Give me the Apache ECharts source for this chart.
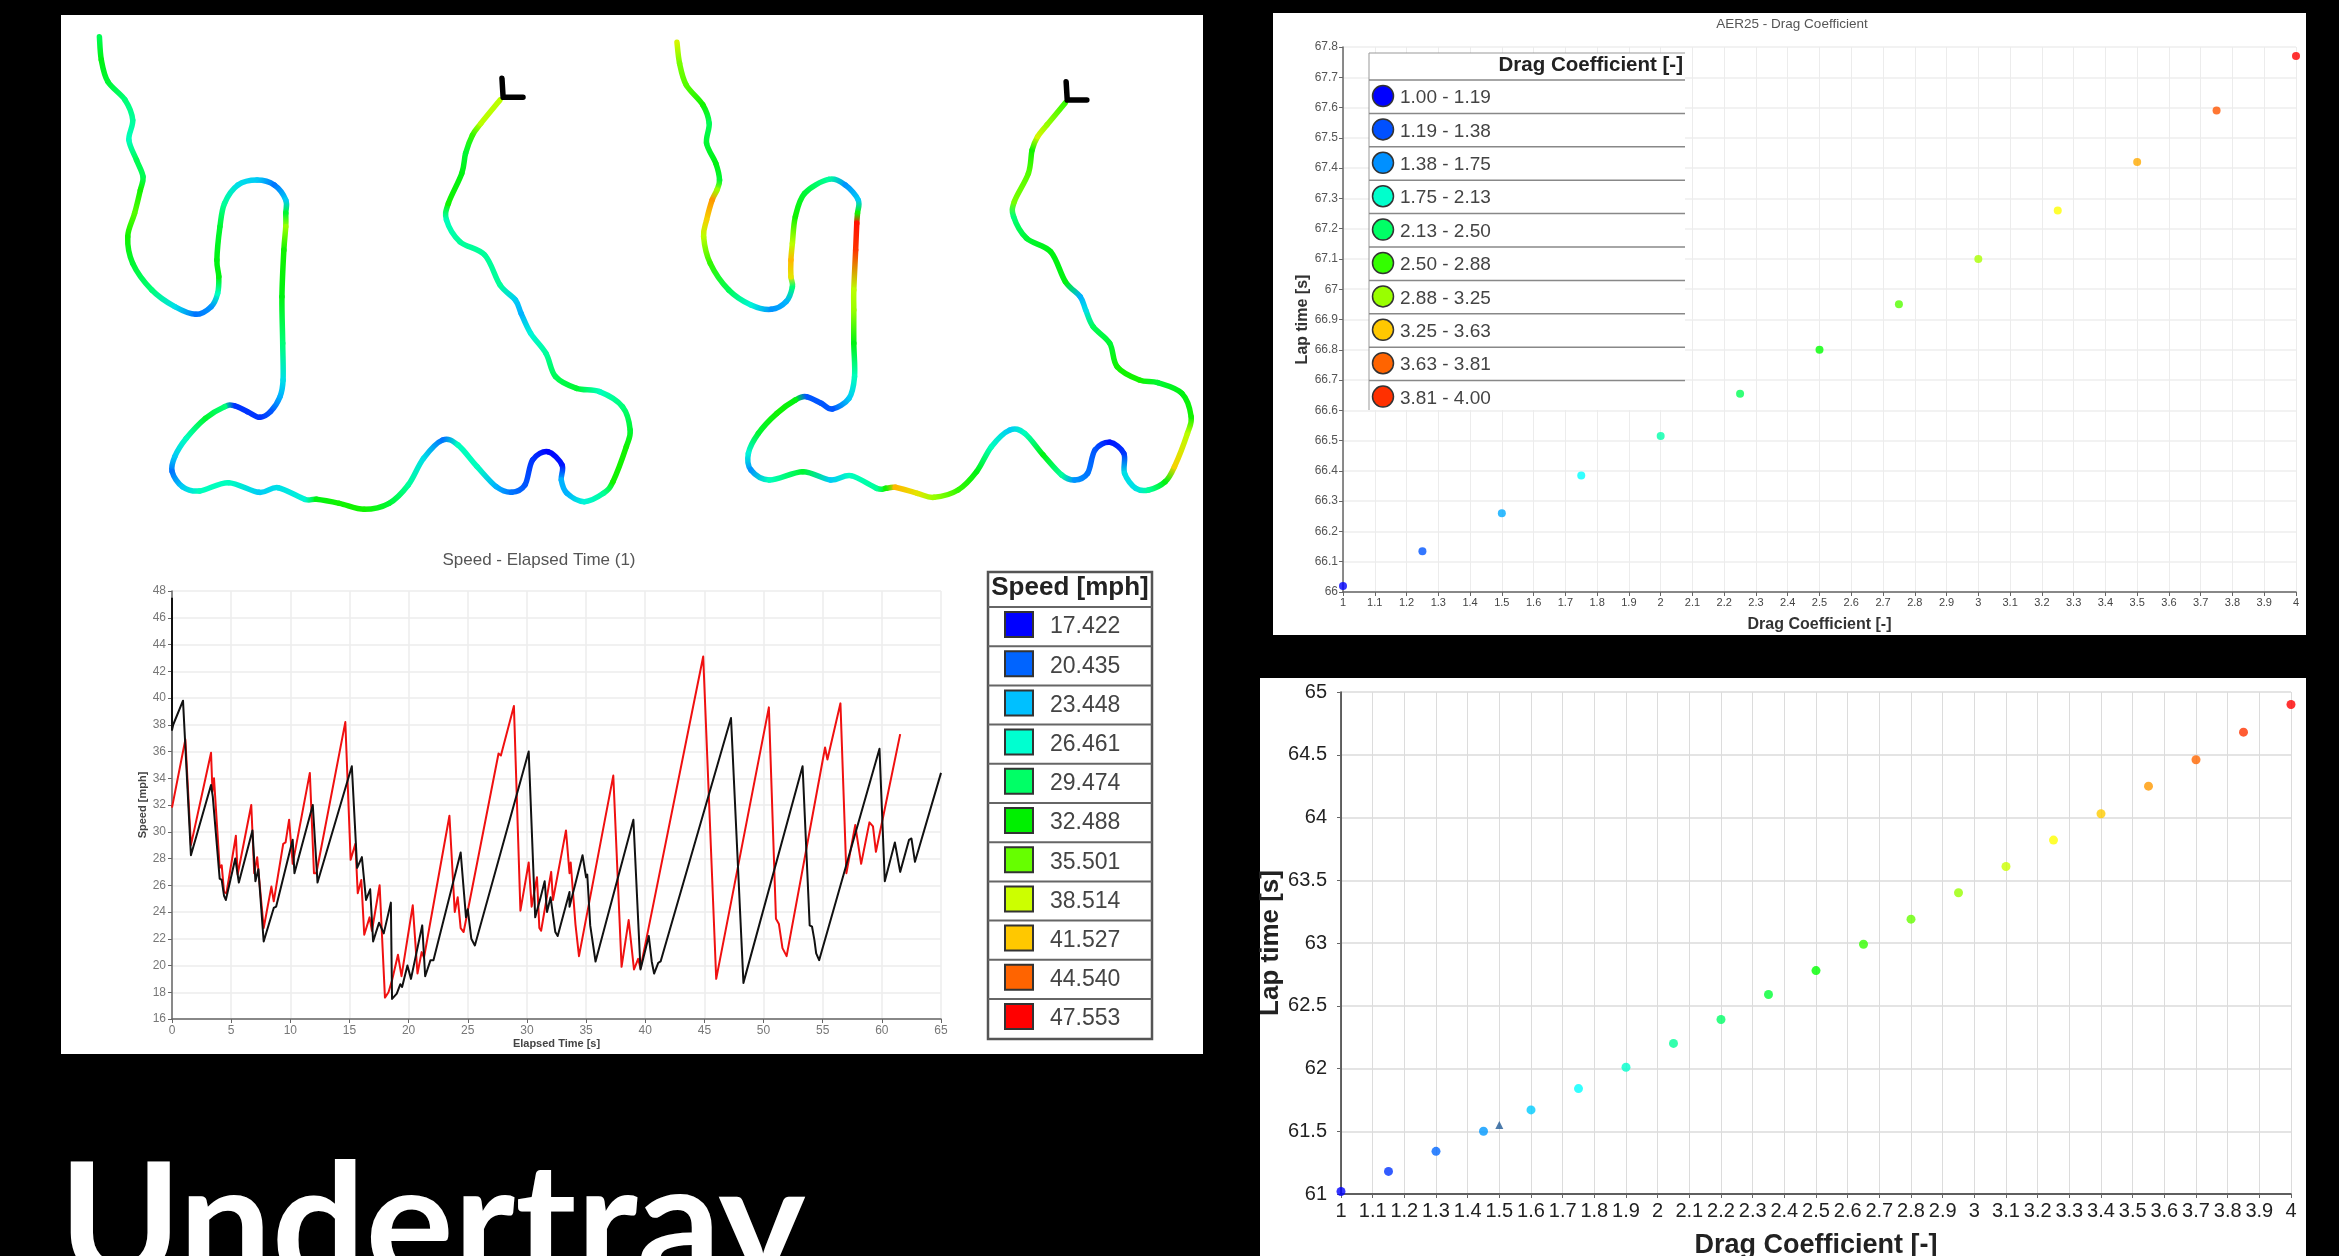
<!DOCTYPE html>
<html><head><meta charset="utf-8">
<style>html,body{margin:0;padding:0;background:#000}#c{width:2339px;height:1256px}</style>
<script src="https://cdn.jsdelivr.net/npm/echarts@6/dist/echarts.min.js"></script>
</head><body><div id="c"></div>
<script>
// ---------- data ----------
const speedLegendValues = [17.422,20.435,23.448,26.461,29.474,32.488,35.501,38.514,41.527,44.540,47.553];
const speedLegendColors = ['#0000ff','#0064ff','#00c0ff','#00ffd0','#00ff66','#00f000','#66ff00','#ccff00','#ffc800','#ff6400','#ff0000'];
const dragLegendLabels = ['1.00 - 1.19','1.19 - 1.38','1.38 - 1.75','1.75 - 2.13','2.13 - 2.50','2.50 - 2.88','2.88 - 3.25','3.25 - 3.63','3.63 - 3.81','3.81 - 4.00'];
const dragLegendColors = ['#0000ff','#0050ff','#0090ff','#00ffcc','#00ff66','#33ff00','#99ff00','#ffc800','#ff6400','#ff3000'];

// track points: [east, south, speed mph], in the map's own units
const trackA = [[103,80,30],[108,150,32],[125,215,31],[170,270,29],[190,330,28],[180,390,27],[200,450,30],[217,500,30],[210,540,33],[195,610,35],[177,680,33],[190,760,31],[240,840,29],[300,890,25],[355,913,21],[395,890,22],[412,850,27],[415,800,32],[410,750,32],[418,650,31],[430,580,28],[465,525,25],[515,510,24],[560,525,21],[590,570,24],[590,610,31],[590,650,37],[585,720,33],[580,860,32],[582,1000,29],[583,1110,25],[575,1160,23],[550,1205,20],[522,1222,19],[490,1205,19],[455,1187,19],[430,1190,29],[380,1225,31],[330,1285,27],[300,1340,24],[293,1385,21],[320,1430,24],[365,1443,27],[440,1418,27],[520,1447,24],[570,1433,25],[640,1468,26],[670,1468,32],[730,1480,33],[795,1498,33],[860,1480,31],[910,1425,28],[950,1345,25],[1000,1290,21],[1040,1305,27],[1090,1370,27],[1140,1430,23],[1180,1447,21],[1215,1425,20],[1235,1350,19],[1275,1325,17.5],[1312,1365,18],[1310,1410,23],[1325,1450,23],[1370,1475,26],[1420,1450,28],[1445,1415,33],[1480,1310,33],[1490,1260,31],[1470,1190,29],[1410,1145,27],[1350,1135,31],[1295,1100,30],[1270,1030,28],[1230,970,26],[1205,910,23],[1190,870,24],[1150,825,28],[1110,735,28],[1045,695,28],[1010,630,27],[1015,580,33],[1050,490,32],[1060,430,31],[1078,375,34],[1100,340,38],[1150,270,38]];
const markerA = [[1155,205],[1158,262],[1210,262]];
const trackB = [[100,97,39],[107,160,36],[125,225,35],[170,285,33],[187,340,30],[180,400,31],[205,460,32],[215,510,31],[208,540,37],[195,570,43],[180,630,41],[172,680,38],[190,760,34],[240,840,30],[300,885,26],[355,898,22],[395,875,23],[412,830,29],[408,800,40],[408,750,42],[412,700,38],[420,620,33],[445,550,31],[510,508,28],[555,525,22],[590,570,24],[588,610,33],[586,640,47],[583,720,46],[578,840,38],[578,900,37],[578,1000,32],[580,1100,27],[565,1165,24],[520,1197,20],[490,1180,20],[450,1160,20],[420,1170,32],[370,1210,33],[320,1270,31],[293,1330,26],[300,1380,22],[350,1410,27],[440,1385,31],[515,1410,24],[570,1397,27],[640,1435,28],[665,1435,33],[690,1432,42],[750,1450,40],[795,1462,37],[860,1440,34],[910,1385,32],[950,1310,27],[1000,1260,24],[1040,1270,27],[1090,1335,32],[1140,1395,28],[1175,1410,22],[1210,1390,21],[1230,1320,20],[1270,1297,18],[1308,1330,19],[1310,1390,25],[1340,1435,25],[1375,1440,28],[1420,1415,32],[1445,1370,41],[1480,1270,38],[1490,1220,33],[1465,1150,32],[1400,1118,31],[1350,1110,33],[1290,1070,33],[1270,1000,31],[1225,950,30],[1205,900,25],[1190,860,23],[1150,815,32],[1110,725,32],[1045,685,31],[1010,620,29],[1012,575,36],[1050,490,35],[1060,420,33],[1075,380,39],[1100,345,37],[1150,278,34]];
const markerB = [[1152,215],[1155,270],[1208,270]];

const speedBlack = [[0,47.5],[0,37.6],[0.1,38],[0.93,39.8],[1.6,28.25],[3.3,33.5],[3.45,32.6],[4.03,26.5],[4.2,26.4],[4.4,25.2],[4.55,24.9],[5.35,28],[5.65,26.2],[6.8,30.1],[7.05,26.3],[7.3,27.2],[7.75,21.8],[8.6,24.3],[8.8,24.4],[10.2,29.4],[10.35,26.9],[11.9,32],[12.3,26.2],[15.2,34.9],[15.65,27.3],[16.05,28.1],[16.4,24.9],[16.75,25.7],[17,21.8],[17.5,23.2],[17.9,22.4],[18.5,24.7],[18.6,17.5],[19,17.9],[19.3,18.6],[19.45,18.4],[19.9,20],[20.2,19],[21.15,23],[21.4,19.2],[21.85,20.4],[22.1,20.4],[24.4,28.45],[24.85,23.6],[25,24.2],[25.3,22],[25.6,21.5],[30.15,36],[30.7,23.6],[31.16,25.1],[31.5,26.3],[31.7,24],[32,25.1],[32.4,22.5],[32.6,22.2],[33.6,25.5],[33.6,24.4],[34.7,28.25],[35,26.6],[35.1,26.8],[35.35,23],[35.5,22.9],[35.8,20.3],[39,30.9],[39.6,19.7],[40.3,22.2],[40.55,20.3],[40.75,19.4],[41.1,20.2],[41.3,20.3],[47.25,38.5],[48.3,18.7],[53.3,34.9],[53.9,23],[54.1,22.9],[54.3,21.9],[54.45,20.9],[54.7,20.4],[59.8,36.2],[60.25,26.3],[61.1,29.2],[61.55,27],[62.3,29.4],[62.5,29.5],[62.8,27.75],[65,34.4]];
const speedRed = [[0,31.8],[1.13,36.9],[1.27,36.8],[1.6,29],[3.3,35.9],[3.42,33],[3.55,34],[4.03,27.3],[4.2,27.5],[4.4,25.5],[4.6,25.4],[5.4,29.7],[5.55,26.8],[6.7,32],[6.95,26.9],[7.2,28.1],[7.75,22.8],[8.4,25.9],[8.6,24.8],[9.4,29.1],[9.6,29.2],[9.9,30.9],[10.2,27.6],[11.65,34.4],[12,26.9],[12.2,26.9],[14.65,38.2],[15.1,27.9],[15.5,29.1],[15.7,25.4],[16,26.4],[16.25,22.3],[16.7,23.6],[16.9,22.6],[17.55,26],[18,17.6],[18.3,18],[18.6,18.9],[19.1,20.8],[19.4,19.2],[20.35,24.5],[20.75,19.4],[21.1,21],[21.3,20.6],[23.45,31.2],[23.9,24],[24.15,25.1],[24.4,22.8],[24.65,22.5],[27.6,35.85],[27.8,35.7],[28.9,39.4],[29.45,24.1],[30.15,27.7],[30.4,24.4],[30.85,26.6],[31.05,22.8],[31.2,22.6],[32.05,27],[32.2,24.9],[33.3,30.1],[33.6,26.9],[33.7,27.7],[34.1,23.1],[34.4,20.7],[37.3,34.2],[38,19.9],[38.6,23.4],[39.05,19.7],[39.4,20.5],[39.6,19.8],[44.9,43.1],[46,19],[50.45,39.3],[51.05,23.5],[51.3,23.1],[51.6,21.3],[51.95,20.7],[55.2,36.3],[55.4,35.4],[56.5,39.6],[57,26.9],[57.75,30.5],[58.25,27.6],[58.95,30.7],[59.25,30.4],[59.5,28.5],[61.55,37.3]];

const dragA = [[1,66.02],[1.25,66.135],[1.5,66.26],[1.75,66.385],[2,66.515],[2.25,66.655],[2.5,66.8],[2.75,66.95],[3,67.1],[3.25,67.26],[3.5,67.42],[3.75,67.59],[4,67.77]];
const dragB = [[1,61.02],[1.15,61.18],[1.3,61.34],[1.45,61.5],[1.6,61.67],[1.75,61.84],[1.9,62.01],[2.05,62.2],[2.2,62.39],[2.35,62.59],[2.5,62.78],[2.65,62.99],[2.8,63.19],[2.95,63.4],[3.1,63.61],[3.25,63.82],[3.4,64.03],[3.55,64.25],[3.7,64.46],[3.85,64.68],[4,64.9]];
const dragBaseline = [[1.5,61.55]];

// ---------- helpers ----------
const FONT = '"Liberation Sans", Arial, sans-serif';
function hex(c){return [1,3,5].map(i=>parseInt(c.substr(i,2),16));}
function speedColor(v){
  const xs=speedLegendValues, cs=speedLegendColors;
  if(v<=xs[0])return cs[0];
  for(let i=1;i<xs.length;i++){ if(v<=xs[i]){
    const t=(v-xs[i-1])/(xs[i]-xs[i-1]),a=hex(cs[i-1]),b=hex(cs[i]);
    return 'rgb('+a.map((q,k)=>Math.round(q+(b[k]-q)*t)).join(',')+')';
  }}
  return cs[cs.length-1];
}
function trackSeries(pts,gridIndex){
  return {type:'custom',coordinateSystem:'cartesian2d',xAxisIndex:gridIndex,yAxisIndex:gridIndex,clip:false,z:3,
    data:pts,encode:{x:0,y:1},silent:true,
    renderItem:function(params,api){
      const i=params.dataIndex; if(i>=pts.length-1)return null;
      const P=k=>api.coord(pts[Math.max(0,Math.min(pts.length-1,k))]);
      const p0=P(i-1),p1=P(i),p2=P(i+1),p3=P(i+2);
      return {type:'bezierCurve',
        shape:{x1:p1[0],y1:p1[1],x2:p2[0],y2:p2[1],
          cpx1:p1[0]+(p2[0]-p0[0])/6,cpy1:p1[1]+(p2[1]-p0[1])/6,
          cpx2:p2[0]-(p3[0]-p1[0])/6,cpy2:p2[1]-(p3[1]-p1[1])/6},
        style:{fill:null,lineWidth:5.5,lineCap:'round',
          stroke:new echarts.graphic.LinearGradient(p1[0],p1[1],p2[0]+0.01,p2[1]+0.01,
            [{offset:0,color:speedColor(pts[i][2])},{offset:1,color:speedColor(pts[i+1][2])}],true)}};
    }};
}
function markerSeries(pts,gridIndex){
  return {type:'line',xAxisIndex:gridIndex,yAxisIndex:gridIndex,data:pts,symbol:'none',z:4,silent:true,clip:false,
    lineStyle:{color:'#000',width:5.5,cap:'round',join:'round'}};
}
function hiddenAxis(gridIndex,min,max,inv){return {gridIndex,type:'value',min,max,inverse:!!inv,show:false,splitLine:{show:false}};}
const G=(left,top,width,height)=>({left,top,width,height,outerBoundsMode:'none'});

const chartAxis=(o)=>Object.assign({type:'value',nameLocation:'middle',
  axisLine:{show:true,onZero:false,lineStyle:{color:'#666',width:1.5}},
  axisTick:{show:true,length:4,lineStyle:{color:'#666'}},
  splitLine:{show:true,lineStyle:{color:'#ececec',width:1.5}},
  nameTextStyle:{color:'#444',fontFamily:FONT,fontWeight:'bold',fontSize:11}},o);

// ---------- graphic panels and legend tables ----------
const rect=(x,y,w,h,fill,z,stroke,lw)=>({type:'rect',shape:{x,y,width:w,height:h},style:{fill,stroke:stroke||null,lineWidth:lw||0},z,silent:true});
const txt=(x,y,t,size,color,weight,align,z)=>({type:'text',x,y,z,silent:true,style:{text:t,fontFamily:FONT,fontSize:size,fill:color,fontWeight:weight||'normal',align:align||'left',verticalAlign:'middle'}});
const hline=(x1,x2,y,c,w,z)=>({type:'line',shape:{x1,y1:y,x2,y2:y},style:{stroke:c,lineWidth:w},z,silent:true});

const gfx=[
  rect(61,15,1142,1039,'#fff',-10),
  rect(1273,13,1033,622,'#fff',-10),
  rect(1260,678,1046,578,'#fff',-10)
];
// speed legend
gfx.push(rect(988,572,164,467,'#fff',20,'#555',2.5));
gfx.push(txt(1070,588,'Speed [mph]',26,'#222','bold','center',21));
speedLegendValues.forEach((v,i)=>{
  const top=607+i*39.2;
  gfx.push(hline(988,1152,top,'#666',2,21));
  gfx.push(rect(1005,top+5,28,25,speedLegendColors[i],21,'#333',2));
  gfx.push(txt(1050,top+20,v.toFixed(3),23,'#444','normal','left',21));
});
// drag legend
gfx.push(rect(1369,53,316,357,'#fff',20));
gfx.push({type:'line',shape:{x1:1369,y1:53,x2:1369,y2:410},style:{stroke:'#999',lineWidth:1},z:21,silent:true});
gfx.push(hline(1369,1685,53,'#999',1,21));
gfx.push(txt(1683,65,'Drag Coefficient [-]',20.5,'#222','bold','right',21));
dragLegendLabels.forEach((t,i)=>{
  const top=80+i*33.4;
  gfx.push(hline(1369,1685,top,'#888',1.5,21));
  gfx.push({type:'circle',shape:{cx:1383,cy:top+16,r:10.5},style:{fill:dragLegendColors[i],stroke:'#333',lineWidth:1.5},z:21,silent:true});
  gfx.push(txt(1400,top+18,t,19,'#444','normal','left',21));
});

// ---------- option ----------
const option={
  backgroundColor:'#000',
  animation:false,
  title:[
    {text:'Speed - Elapsed Time (1)',left:534,top:547,textAlign:'center',textStyle:{color:'#555',fontFamily:FONT,fontSize:17,fontWeight:'normal'}},
    {text:'AER25 - Drag Coefficient',left:1787,top:12,textAlign:'center',textStyle:{color:'#555',fontFamily:FONT,fontSize:13.5,fontWeight:'normal'}},
    {text:'Undertray',left:54,top:1140,textStyle:{color:'#fff',fontFamily:'Lato, sans-serif',fontSize:165,fontWeight:'bold'}}
  ],
  graphic:{elements:gfx},
  visualMap:[
    {show:false,type:'continuous',min:1,max:4,dimension:0,seriesIndex:[6,7],inRange:{color:['#0000ff','#00ffff','#00ff00','#ffff00','#ff0000']}}
  ],
  grid:[G(60,10,600,520),G(640,10,580,520),G(172,591,769,428),G(1343,47,953,545),G(1341,692,950,502)],
  xAxis:[
    hiddenAxis(0,0,1568),hiddenAxis(1,0,1568),
    chartAxis({gridIndex:2,min:0,max:65,interval:5,name:'Elapsed Time [s]',nameGap:19,
      axisLabel:{color:'#777',fontFamily:FONT,fontSize:12,margin:6}}),
    chartAxis({gridIndex:3,min:1,max:4,interval:0.1,name:'Drag Coefficient [-]',nameGap:25,
      nameTextStyle:{color:'#333',fontFamily:FONT,fontWeight:'bold',fontSize:16},
      axisLabel:{color:'#444',fontFamily:FONT,fontSize:11,margin:5},
      splitLine:{lineStyle:{color:'#ececec',width:1}}}),
    chartAxis({gridIndex:4,min:1,max:4,interval:0.1,name:'Drag Coefficient [-]',nameGap:38,
      nameTextStyle:{color:'#222',fontFamily:FONT,fontWeight:'bold',fontSize:27},
      axisLine:{show:true,onZero:false,lineStyle:{color:'#333',width:1.5}},
      axisLabel:{color:'#222',fontFamily:FONT,fontSize:20,margin:7},
      splitLine:{lineStyle:{color:'#dcdcdc',width:1}}})
  ],
  yAxis:[
    hiddenAxis(0,0,1560,true),hiddenAxis(1,0,1560,true),
    chartAxis({gridIndex:2,min:16,max:48,interval:2,name:'Speed [mph]',nameGap:23,
      axisLabel:{color:'#777',fontFamily:FONT,fontSize:12,margin:6}}),
    chartAxis({gridIndex:3,min:66,max:67.8,interval:0.1,name:'Lap time [s]',nameGap:31,
      nameTextStyle:{color:'#333',fontFamily:FONT,fontWeight:'bold',fontSize:16},
      axisLabel:{color:'#555',fontFamily:FONT,fontSize:12,margin:5},
      splitLine:{lineStyle:{color:'#eeeeee',width:1.5}}}),
    chartAxis({gridIndex:4,min:61,max:65,interval:0.5,name:'Lap time [s]',nameGap:57,
      nameTextStyle:{color:'#222',fontFamily:FONT,fontWeight:'bold',fontSize:26},
      axisLine:{show:true,onZero:false,lineStyle:{color:'#333',width:1.5}},
      axisLabel:{color:'#222',fontFamily:FONT,fontSize:20,margin:14},
      splitLine:{lineStyle:{color:'#e4e4e4',width:2}}})
  ],
  series:[
    trackSeries(trackA,0),
    markerSeries(markerA,0),
    trackSeries(trackB,1),
    markerSeries(markerB,1),
    {name:'Red lap',type:'line',xAxisIndex:2,yAxisIndex:2,data:speedRed,symbol:'none',z:3,silent:true,
      lineStyle:{color:'#f01010',width:2,join:'round'}},
    {name:'Black lap',type:'line',xAxisIndex:2,yAxisIndex:2,data:speedBlack,symbol:'none',z:4,silent:true,
      lineStyle:{color:'#111',width:2,join:'round'}},
    {name:'AER25',type:'scatter',xAxisIndex:3,yAxisIndex:3,data:dragA,symbol:'circle',symbolSize:8,clip:false,z:3,silent:true},
    {name:'Sweep',type:'scatter',xAxisIndex:4,yAxisIndex:4,data:dragB,symbol:'circle',symbolSize:9,clip:false,z:3,silent:true},
    {name:'Baseline',type:'scatter',xAxisIndex:4,yAxisIndex:4,data:dragBaseline,symbol:'triangle',symbolSize:8,clip:false,z:3,silent:true,
      itemStyle:{color:'#1f5a96'}}
  ]
};
echarts.init(document.getElementById('c'),null,{renderer:'canvas'}).setOption(option);
</script>
</body></html>
